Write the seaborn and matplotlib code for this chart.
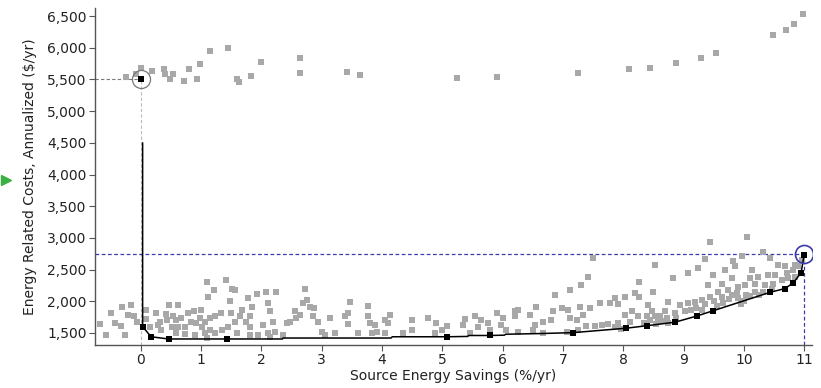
import matplotlib
matplotlib.use("Agg")
import matplotlib.pyplot as plt
import matplotlib.ticker as mticker
from matplotlib.lines import Line2D
import seaborn as sns
import pandas as pd

# candidate designs (gray squares), upper band
top_x = [-0.25, -0.08, 0.00, 0.18, 0.38, 0.40, 0.48, 0.53, 0.71, 0.80, 0.93, 0.98,
         1.14, 1.44, 1.59, 1.63, 1.82, 1.99, 2.64, 2.64, 3.42, 3.63, 5.24, 5.90,
         7.25, 8.09, 8.44, 8.87, 9.29, 9.54, 10.48, 10.70, 10.83, 10.98]
top_y = [5540, 5580, 5680, 5630, 5660, 5580, 5510, 5580, 5470, 5660, 5510, 5740,
         5950, 5990, 5510, 5460, 5550, 5770, 5840, 5600, 5620, 5570, 5520, 5540,
         5600, 5660, 5680, 5760, 5840, 5920, 6200, 6280, 6370, 6530]

# candidate designs (gray squares), lower band
low_x = [1.09, 1.41, 1.21, 1.52, 1.11, 1.48, -0.17, -0.32, -0.49, -0.21, 0.09, 0.46,
         0.61, 0.26, 0.41, 0.54, -0.68, -0.43, -0.33, -0.11, -0.07, 0.09, 0.32, 0.43,
         0.59, 0.67, 0.78, 0.88, 1.00, 0.98, 0.84, 0.92, 1.06, 1.14, 1.23, 1.33,
         1.50, 1.56, 1.45, 1.34, 1.14, 1.01, 0.74, 0.62, 0.51, 0.34, 0.29, 0.15,
         -0.57, -0.27, 0.59, 0.73, 0.90, 1.06, 1.23, 1.59, 1.09,
         1.56, 1.78, 1.92, 2.08, 2.25, 2.73, 2.75, 2.69, 2.80, 2.87, 1.67, 1.84,
         2.11, 2.14, 1.64, 1.81, 2.03, 2.19, 1.75, 1.81, 2.55, 2.64, 2.58, 2.42,
         2.47, 2.86, 2.94, 3.13, 3.47, 3.44, 3.38, 3.44, 3.76, 3.76, 3.80, 3.83,
         3.00, 3.05, 3.22, 1.81, 1.95, 2.11, 2.14, 2.22, 2.36, 3.60, 3.91,
         4.13, 4.05, 4.10, 4.49, 4.76, 4.49, 4.35, 4.05, 3.88, 4.90, 4.88, 5.07,
         4.99, 5.37, 5.34, 5.46, 5.54, 5.64, 5.59, 5.76, 5.79, 5.90, 6.01, 5.98,
         6.06, 6.20, 6.26,
         7.50, 7.42, 7.30, 7.11, 6.87, 6.56, 6.45, 6.20, 6.98, 7.09, 7.28, 7.45,
         7.34, 7.23, 7.11, 6.84, 6.81, 6.67, 6.53, 6.51, 6.26, 6.67, 7.06, 7.25,
         7.39, 7.53, 7.64, 7.75, 7.61, 7.78, 7.86, 7.92, 8.03, 8.19, 8.26, 8.26,
         8.52, 8.50, 8.41, 8.47, 8.03, 8.14, 8.25, 8.11, 7.92, 8.39, 8.52, 8.58,
         7.86, 7.97, 8.35, 8.55, 8.65, 8.75, 8.45,
         9.44, 10.06, 10.32, 10.43, 9.97, 9.35, 9.82, 9.85, 10.57, 10.68, 9.24, 9.08,
         8.83, 9.68, 9.49, 9.80, 10.13, 10.10, 10.24, 10.40, 10.51, 10.71, 10.82, 10.85,
         10.90, 9.41, 9.63, 9.91, 10.02, 10.18, 10.35, 10.49, 10.63, 10.73, 9.57, 9.74,
         9.88, 9.44, 9.30, 9.19, 9.08, 8.94, 8.74, 8.69, 8.86, 9.02, 9.13, 9.30,
         9.63, 9.80, 10.04, 10.18, 10.32, 10.46, 8.61, 8.72, 8.88, 10.85, 10.96,
         9.20, 9.35, 9.50, 9.55, 9.65, 9.75, 9.90, 10.00, 10.10, 10.25, 9.95]
low_y = [2310, 2340, 2170, 2190, 2070, 2000, 1940, 1910, 1810, 1780, 1860, 1940,
         1940, 1810, 1800, 1760, 1640, 1650, 1610, 1760, 1680, 1720, 1680, 1700,
         1700, 1730, 1810, 1840, 1860, 1730, 1680, 1650, 1680, 1730, 1760, 1810,
         1810, 1680, 1600, 1550, 1550, 1600, 1600, 1600, 1600, 1550, 1630, 1600,
         1470, 1460, 1500, 1480, 1470, 1500, 1500, 1500, 1420,
         2180, 2050, 2120, 2140, 2150, 2190, 2020, 1970, 1910, 1890, 1860, 1910,
         1970, 1840, 1760, 1760, 1630, 1680, 1680, 1600, 1850, 1780, 1730, 1650,
         1680, 1760, 1680, 1730, 1990, 1810, 1760, 1640, 1930, 1760, 1650, 1500,
         1520, 1470, 1500, 1470, 1470, 1500, 1440, 1520, 1470, 1500, 1520,
         1780, 1700, 1650, 1700, 1730, 1550, 1500, 1500, 1630, 1650, 1500, 1610,
         1540, 1720, 1630, 1500, 1760, 1700, 1600, 1650, 1550, 1810, 1730, 1630,
         1540, 1840, 1860,
         2680, 2390, 2260, 2180, 2100, 1910, 1780, 1760, 1890, 1860, 1910, 1890,
         1780, 1700, 1730, 1840, 1700, 1680, 1630, 1550, 1520, 1500, 1520, 1550,
         1610, 1610, 1630, 1640, 1980, 1980, 2050, 1960, 2070, 2130, 2060, 2310,
         2570, 2140, 1940, 1840, 1780, 1840, 1760, 1680, 1650, 1760, 1760, 1700,
         1600, 1570, 1650, 1640, 1690, 1650, 1700,
         2940, 3020, 2770, 2690, 2710, 2660, 2640, 2560, 2570, 2550, 2520, 2440,
         2360, 2490, 2410, 2360, 2490, 2360, 2390, 2410, 2410, 2440, 2490, 2390,
         2550, 2260, 2280, 2230, 2260, 2280, 2260, 2280, 2340, 2360, 2150, 2180,
         2130, 2070, 2020, 1990, 1970, 1940, 1990, 1840, 1810, 1840, 1860, 1860,
         2070, 2100, 2100, 2150, 2150, 2200, 1760, 1730, 1730, 2570, 2650,
         1900, 1950, 2000, 1930, 1980, 2030, 2050, 2000, 2080, 2100, 1950]

# optimal path (black line) and its marked points
path_x = [0.03, 0.03, 0.17, 0.46, 1.43, 2.35, 2.36, 4.15, 4.17, 5.07, 5.42, 5.44,
          5.79, 6.03, 6.05, 6.60, 7.17, 8.05, 8.40, 8.86, 9.23, 9.49, 10.43, 10.68,
          10.82, 10.95, 11.00]
path_y = [4500, 1600, 1440, 1405, 1405, 1405, 1420, 1420, 1440, 1440, 1445, 1460,
          1460, 1465, 1480, 1490, 1505, 1575, 1615, 1670, 1770, 1850, 2140, 2200,
          2290, 2450, 2730]
opt_x = [0.03, 0.17, 0.46, 1.43, 5.07, 5.79, 7.17, 8.05, 8.40, 8.86, 9.23, 9.49,
         10.43, 10.68, 10.82, 10.95, 11.00]
opt_y = [1600, 1440, 1405, 1405, 1440, 1460, 1505, 1575, 1615, 1670, 1770, 1850,
         2140, 2200, 2290, 2450, 2730]

# baseline (gray ring) and selected design (blue ring)
base_x, base_y = 0.0, 5500
sel_x, sel_y = 11.0, 2740

cand = pd.DataFrame({"x": top_x + low_x, "y": top_y + low_y})
path = pd.DataFrame({"x": path_x, "y": path_y})
opt = pd.DataFrame({"x": opt_x + [base_x], "y": opt_y + [base_y]})

sns.set_style("white")
plt.rcParams["font.family"] = ["DejaVu Sans"]

fig = plt.figure(figsize=(8.21, 3.88), dpi=100)
ax = fig.add_axes([0.1157, 0.111, 0.8733, 0.868])

xmin, xmax = -0.76, 11.13
ymin, ymax = 1311, 6625

# guide lines to baseline and selected design
ax.plot([xmin, base_x], [base_y, base_y], ls=(0, (3, 2)), color="#777777", lw=0.8, zorder=1)
ax.plot([base_x, base_x], [ymin, base_y], ls=(0, (3, 2)), color="#bbbbbb", lw=0.8, zorder=1)
ax.plot([xmin, sel_x], [sel_y, sel_y], ls=(0, (3, 2)), color="#3b3bab", lw=0.9, zorder=1)
ax.plot([sel_x, sel_x], [ymin, sel_y], ls=(0, (3, 2)), color="#3b3bab", lw=0.9, zorder=1)

sns.scatterplot(data=cand, x="x", y="y", marker="s", s=20, color="#a8a8a8",
                linewidth=0, ax=ax, zorder=2)
sns.lineplot(data=path, x="x", y="y", sort=False, estimator=None, color="black",
             lw=1.1, ax=ax, zorder=3)
sns.scatterplot(data=opt, x="x", y="y", marker="s", s=20, color="black",
                linewidth=0, ax=ax, zorder=4)

ax.plot([base_x], [base_y], marker="o", ms=13, mfc="none", mec="#777777", mew=0.9, zorder=5)
ax.plot([sel_x], [sel_y], marker="o", ms=13, mfc="none", mec="#3b3bab", mew=1.2, zorder=5)

ax.set_xlim(xmin, xmax)
ax.set_ylim(ymin, ymax)
ax.set_xticks(range(0, 12))
ax.set_yticks(range(1500, 7000, 500))
ax.yaxis.set_major_formatter(mticker.FuncFormatter(lambda v, p: f"{int(v):,}"))
ax.tick_params(axis="both", labelsize=10, length=4, width=0.8, color="#555555",
               labelcolor="#222222", direction="out", left=True, bottom=True, pad=2)
ax.set_xlabel("Source Energy Savings (%/yr)", fontsize=10, color="#222222", labelpad=1)
ax.set_ylabel("Energy Related Costs, Annualized ($/yr)", fontsize=10, color="#222222", labelpad=7)

for side in ["top", "right"]:
    ax.spines[side].set_visible(False)
for side in ["left", "bottom"]:
    ax.spines[side].set_color("#555555")
    ax.spines[side].set_linewidth(1.0)

# small green pointer at the left edge
fig.add_artist(Line2D([6 / 821], [1 - 180 / 388], marker=">", ms=7, color="#3cb043",
                      transform=fig.transFigure))

fig.savefig("out.png", dpi=100)
